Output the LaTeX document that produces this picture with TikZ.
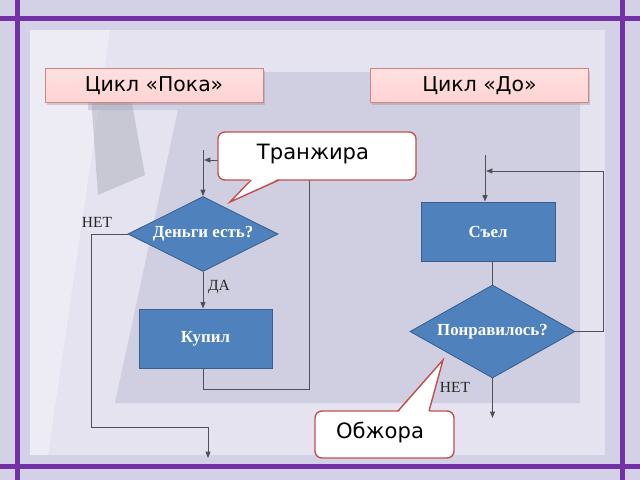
\documentclass[tikz,border=0pt]{standalone}
\usepackage{fontspec}
\setmainfont{Liberation Serif}
\newfontfamily\dvs{DejaVu Sans}
\usetikzlibrary{shapes.geometric,arrows.meta,shadows}
\definecolor{bgc}{HTML}{D3D1E5}
\definecolor{panelc}{HTML}{E4E3EF}
\definecolor{dotc}{HTML}{D0CFE1}
\definecolor{purp}{HTML}{7232A6}
\definecolor{pinkf}{HTML}{FFD3D3}
\definecolor{pinkb}{HTML}{D08585}
\definecolor{blu}{HTML}{4F81BD}
\definecolor{blub}{HTML}{3A5F8C}
\definecolor{redb}{HTML}{C0504D}
\definecolor{linec}{HTML}{505058}
\tikzset{
  conn/.style={draw=linec, line width=0.7pt},
  arr/.style={conn, -{Triangle[length=4.5pt,width=3.5pt]}},
  dia/.style={diamond, fill=blu, draw=blub, line width=0.6pt, inner sep=0pt,
    minimum width=#1},
  flowbox/.style={rectangle, fill=blu, draw=blub, line width=0.6pt,
    font=\bfseries\fontsize{12}{14}\selectfont, text=white},
  dtext/.style={font=\bfseries\fontsize{12}{14}\selectfont, text=white},
  lbl/.style={font=\fontsize{11}{13}\selectfont, text=black!85},
  titlebox/.style={rectangle, top color=pinkf!70!white, bottom color=pinkf, draw=pinkb,
    line width=0.6pt, font=\dvs\fontsize{14.5}{16}\selectfont,
    minimum width=5.45cm, minimum height=0.85cm,
    drop shadow={shadow xshift=1.2pt, shadow yshift=-1.5pt, opacity=0.3}},
  cobox/.style={rectangle, rounded corners=5pt, fill=white, draw=redb, line width=1pt,
    font=\dvs\fontsize{15}{18}\selectfont},
  cotail/.style={draw=redb, line width=1pt, line join=miter},
}
\begin{document}
\begin{tikzpicture}[x=0.025cm, y=-0.025cm]
\useasboundingbox (0,0) rectangle (640,480);
% background
\fill[bgc] (0,0) rectangle (640,480);
\fill[panelc] (30,30) rectangle (605,455);
\fill[white, opacity=0.35] (30,30) -- (110,30) -- (48,455) -- (30,455) -- cycle;
\fill[dotc] (88,72) -- (580,72) -- (580,403) -- (115,403) -- (178,110) -- (88,110) -- cycle;
\fill[black!25!bgc, opacity=0.4] (90,82) -- (128,82) -- (145,175) -- (98,195) -- cycle;
% frame lines
\fill[purp] (0,16) rectangle (640,21);
\fill[purp] (0,464) rectangle (640,469);
\fill[purp] (15,0) rectangle (20,480);
\fill[purp] (620,0) rectangle (625,480);

% titles
\node[titlebox] (tw) at (154,85.5) {Цикл «Пока»};
\node[titlebox] (td) at (479.5,85.5) {Цикл «До»};

% left flowchart
\node[dia=3.75cm, minimum height=1.875cm] (d1) at (203,234) {};
\node[dtext] (d1t) at (d1) {Деньги есть?};
\node[flowbox, minimum width=3.325cm, minimum height=1.475cm] (b1) at (205.5,338.5) {Купил};
\coordinate (in1) at (203,150);
\draw[arr] (in1) -- (d1.north);
\draw[arr] (d1.south) -- (d1.south |- b1.north);
\coordinate (l1a) at (309,389);
\coordinate (l1b) at (309,160);
\coordinate (l1c) at (204,160);
\draw[arr] (d1.south |- b1.south) |- (l1a) -- (l1b) -- (l1c);
\coordinate (n1a) at (91,234);
\coordinate (n1b) at (91,427);
\coordinate (n1c) at (208,427);
\coordinate (n1d) at (208,458);
\draw[arr] (d1.west) -- (n1a) -- (n1b) -- (n1c) -- (n1d);
\node[lbl] (no1) at (97,222) {НЕТ};
\node[lbl] (yes1) at (219,287) {ДА};

% right flowchart
\node[flowbox, minimum width=3.35cm, minimum height=1.475cm] (b2) at (488,231.5) {Съел};
\node[dia=4.125cm, minimum height=2.325cm] (d2) at (492.5,331.5) {};
\node[dtext] (d2t) at (d2) {Понравилось?};
\coordinate (in2) at (485,155);
\draw[arr] (in2) -- (in2 |- b2.north);
\draw[conn] (d2.north |- b2.south) -- (d2.north);
\coordinate (r2a) at (603,331.5);
\coordinate (r2b) at (603,171);
\coordinate (r2c) at (486,171);
\draw[arr] (d2.east) -- (r2a) -- (r2b) -- (r2c);
\coordinate (o2) at (492.5,418);
\draw[arr] (d2.south) -- (o2);
\node[lbl] (no2) at (455,387) {НЕТ};

% callout Транжира
\node[cobox, minimum width=4.95cm, minimum height=1.2cm] (c1) at (317,156) {};
\node[font=\dvs\fontsize{15}{18}\selectfont] (c1t) at (313,154) {Транжира};
\fill[white] (251,178.4) -- (230,202) -- (279,178.4) -- cycle;
\draw[cotail] (251,180) -- (230,202) -- (279,180);

% callout Обжора
\node[cobox, minimum width=3.475cm, minimum height=1.175cm] (c2) at (384.5,434.5) {};
\node[font=\dvs\fontsize{15}{18}\selectfont] (c2t) at (380,432) {Обжора};
\fill[white] (398,412.6) -- (443,360) -- (429,412.6) -- cycle;
\draw[cotail] (398,411) -- (443,360) -- (429,411);
\end{tikzpicture}
\end{document}
